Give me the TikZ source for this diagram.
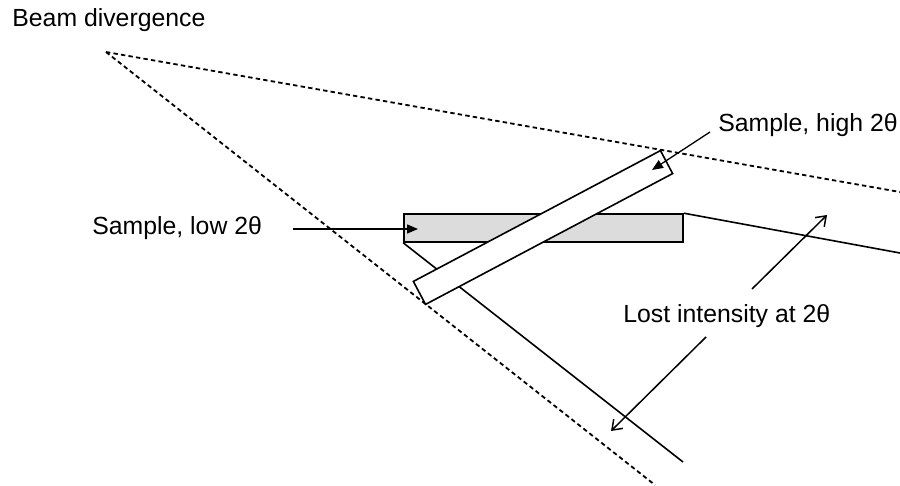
\documentclass[tikz,border=0pt]{standalone}
\usepackage{fontspec}
\setmainfont{Liberation Sans}
\usetikzlibrary{arrows.meta,positioning}
\definecolor{smgray}{RGB}{220,220,220}

\begin{document}
\begin{tikzpicture}[
  x=0.5pt,y=-0.5pt,
  font=\fontsize{12.4}{14}\selectfont,
  beam/.style={dashed,line width=0.9pt,dash pattern=on 2.2pt off 1.6pt},
  ray/.style={line width=0.8pt},
  sample/.style={draw,line width=0.8pt,inner sep=0pt,minimum height=14pt},
  lbl/.style={anchor=base west,inner sep=0pt},
  tagarrow/.style={line width=0.65pt,-{Triangle[length=5.5pt,width=4.5pt]}},
  lostarrow/.style={line width=0.75pt,-{Straight Barb[length=4.5pt,width=6.5pt]}}
]
  \useasboundingbox (0,0) rectangle (900,486);

  % beam envelope
  \coordinate (src) at (106,52);
  \coordinate (bup) at (900,192);
  \coordinate (blo) at (655,485);
  \draw[beam] (src) -- (bup);
  \draw[beam] (src) -- (blo);

  % samples
  \node[sample,fill=smgray,minimum width=139.5pt] (low) at (543.5,228) {};
  \coordinate (rlo) at (683,462);
  \coordinate (rup) at (900,253);
  \draw[ray] (low.south west) -- (rlo);
  \draw[ray] (low.north east) -- (rup);
  \node[sample,fill=white,rotate=27.9,minimum width=139.8pt,minimum height=13pt] (high) at (543,227.5) {};

  % labels
  \node[lbl] (divlbl) at (12,27) {Beam divergence};
  \node[lbl] (highlbl) at (718,132) {Sample, high 2θ};
  \node[lbl] (lowlbl) at (92,235) {Sample, low 2θ};
  \node[lbl] (lostlbl) at (623,322) {Lost intensity at 2θ};

  % pointers
  \coordinate (ha) at (710,132);
  \coordinate (hb) at (652,170);
  \coordinate (la) at (293,229);
  \coordinate (lb) at (418,229);
  \coordinate (ua) at (752,289);
  \coordinate (ub) at (827,215);
  \coordinate (da) at (706,337);
  \coordinate (db) at (611,431);
  \draw[tagarrow] (ha) -- (hb);
  \draw[tagarrow] (la) -- (lb);
  \draw[lostarrow] (ua) -- (ub);
  \draw[lostarrow] (da) -- (db);
\end{tikzpicture}
\end{document}
